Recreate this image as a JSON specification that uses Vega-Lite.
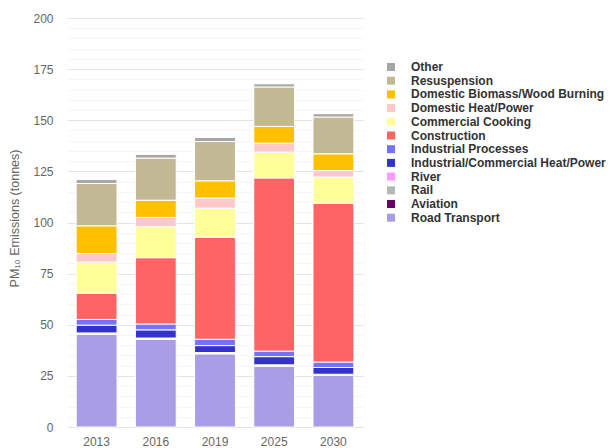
{
  "$schema": "https://vega.github.io/schema/vega-lite/v6.json",
  "autosize": {"type": "none"},
  "padding": {"left": 67, "top": 18, "right": 247, "bottom": 21},
  "width": 296,
  "height": 409,
  "background": "white",
  "config": {
    "font": "Liberation Sans",
    "view": {"stroke": null}
  },
  "data": {
    "values": [
      {"year": "2013", "source": "Road Transport", "value": 45.3},
      {"year": "2013", "source": "Aviation", "value": 0.1},
      {"year": "2013", "source": "Rail", "value": 0.5},
      {"year": "2013", "source": "River", "value": 0.1},
      {"year": "2013", "source": "Industrial/Commercial Heat/Power", "value": 3.8},
      {"year": "2013", "source": "Industrial Processes", "value": 2.8},
      {"year": "2013", "source": "Construction", "value": 12.8},
      {"year": "2013", "source": "Commercial Cooking", "value": 15.2},
      {"year": "2013", "source": "Domestic Heat/Power", "value": 4.2},
      {"year": "2013", "source": "Domestic Biomass/Wood Burning", "value": 13.6},
      {"year": "2013", "source": "Resuspension", "value": 20.7},
      {"year": "2013", "source": "Other", "value": 1.9},

      {"year": "2016", "source": "Road Transport", "value": 42.8},
      {"year": "2016", "source": "Aviation", "value": 0.1},
      {"year": "2016", "source": "Rail", "value": 0.5},
      {"year": "2016", "source": "River", "value": 0.1},
      {"year": "2016", "source": "Industrial/Commercial Heat/Power", "value": 4.0},
      {"year": "2016", "source": "Industrial Processes", "value": 2.9},
      {"year": "2016", "source": "Construction", "value": 32.4},
      {"year": "2016", "source": "Commercial Cooking", "value": 15.1},
      {"year": "2016", "source": "Domestic Heat/Power", "value": 4.6},
      {"year": "2016", "source": "Domestic Biomass/Wood Burning", "value": 8.4},
      {"year": "2016", "source": "Resuspension", "value": 20.6},
      {"year": "2016", "source": "Other", "value": 1.8},

      {"year": "2019", "source": "Road Transport", "value": 35.8},
      {"year": "2019", "source": "Aviation", "value": 0.1},
      {"year": "2019", "source": "Rail", "value": 0.4},
      {"year": "2019", "source": "River", "value": 0.1},
      {"year": "2019", "source": "Industrial/Commercial Heat/Power", "value": 3.4},
      {"year": "2019", "source": "Industrial Processes", "value": 3.1},
      {"year": "2019", "source": "Construction", "value": 49.9},
      {"year": "2019", "source": "Commercial Cooking", "value": 14.2},
      {"year": "2019", "source": "Domestic Heat/Power", "value": 5.0},
      {"year": "2019", "source": "Domestic Biomass/Wood Burning", "value": 8.4},
      {"year": "2019", "source": "Resuspension", "value": 19.2},
      {"year": "2019", "source": "Other", "value": 2.0},

      {"year": "2025", "source": "Road Transport", "value": 29.8},
      {"year": "2025", "source": "Aviation", "value": 0.1},
      {"year": "2025", "source": "Rail", "value": 0.4},
      {"year": "2025", "source": "River", "value": 0.1},
      {"year": "2025", "source": "Industrial/Commercial Heat/Power", "value": 4.0},
      {"year": "2025", "source": "Industrial Processes", "value": 2.7},
      {"year": "2025", "source": "Construction", "value": 84.7},
      {"year": "2025", "source": "Commercial Cooking", "value": 12.6},
      {"year": "2025", "source": "Domestic Heat/Power", "value": 4.4},
      {"year": "2025", "source": "Domestic Biomass/Wood Burning", "value": 8.2},
      {"year": "2025", "source": "Resuspension", "value": 19.3},
      {"year": "2025", "source": "Other", "value": 1.5},

      {"year": "2030", "source": "Road Transport", "value": 25.4},
      {"year": "2030", "source": "Aviation", "value": 0.05},
      {"year": "2030", "source": "Rail", "value": 0.3},
      {"year": "2030", "source": "River", "value": 0.05},
      {"year": "2030", "source": "Industrial/Commercial Heat/Power", "value": 3.3},
      {"year": "2030", "source": "Industrial Processes", "value": 2.7},
      {"year": "2030", "source": "Construction", "value": 77.6},
      {"year": "2030", "source": "Commercial Cooking", "value": 12.8},
      {"year": "2030", "source": "Domestic Heat/Power", "value": 3.2},
      {"year": "2030", "source": "Domestic Biomass/Wood Burning", "value": 8.2},
      {"year": "2030", "source": "Resuspension", "value": 18.0},
      {"year": "2030", "source": "Other", "value": 1.6}
    ]
  },
  "transform": [
    {"calculate": "indexof(['Road Transport','Aviation','Rail','River','Industrial/Commercial Heat/Power','Industrial Processes','Construction','Commercial Cooking','Domestic Heat/Power','Domestic Biomass/Wood Burning','Resuspension','Other'], datum.source)", "as": "ord"}
  ],
  "mark": {"type": "bar", "stroke": "white", "strokeWidth": 1},
  "encoding": {
    "x": {
      "field": "year",
      "type": "nominal",
      "scale": {"paddingInner": 0.31, "paddingOuter": 0.155},
      "axis": {
        "title": null,
        "labelAngle": 0,
        "domain": false,
        "ticks": false,
        "labelFontSize": 12,
        "labelColor": "#666666",
        "labelPadding": 9
      }
    },
    "y": {
      "field": "value",
      "type": "quantitative",
      "stack": "zero",
      "scale": {"domain": [0, 200], "nice": false},
      "axis": {
        "title": "PM₁₀ Emissions (tonnes)",
        "titleFontWeight": "normal",
        "titleFontSize": 12.5,
        "titleColor": "#666666",
        "titleAngle": -90,
        "titleAlign": "center",
        "titleBaseline": "middle",
        "titleX": -53,
        "titleY": 200,
        "values": [0,5,10,15,20,25,30,35,40,45,50,55,60,65,70,75,80,85,90,95,100,105,110,115,120,125,130,135,140,145,150,155,160,165,170,175,180,185,190,195,200],
        "labelExpr": "datum.value % 25 === 0 ? datum.label : ''",
        "domain": false,
        "ticks": false,
        "labelFontSize": 12,
        "labelColor": "#666666",
        "labelPadding": 14,
        "gridColor": {"condition": {"test": "datum.value % 25 === 0", "value": "#e4e4e4"}, "value": "#f6f6f6"},
        "gridWidth": 1
      }
    },
    "color": {
      "field": "source",
      "type": "nominal",
      "scale": {
        "domain": ["Other", "Resuspension", "Domestic Biomass/Wood Burning", "Domestic Heat/Power", "Commercial Cooking", "Construction", "Industrial Processes", "Industrial/Commercial Heat/Power", "River", "Rail", "Aviation", "Road Transport"],
        "range": ["#a6a6a6", "#c2b894", "#ffc000", "#ffc9c9", "#ffff99", "#ff6464", "#7373ff", "#3333cc", "#ff99ff", "#b3bab3", "#660066", "#a99de6"]
      },
      "legend": {
        "title": null,
        "orient": "none",
        "legendX": 318,
        "legendY": 43,
        "symbolType": "square",
        "symbolSize": 64,
        "symbolStrokeWidth": 0,
        "labelFontSize": 12,
        "labelFontWeight": "bold",
        "labelColor": "#333333",
        "labelLimit": 400,
        "labelOffset": 14,
        "rowPadding": 1.7
      }
    },
    "order": {"field": "ord", "type": "quantitative", "sort": "ascending"}
  }
}
